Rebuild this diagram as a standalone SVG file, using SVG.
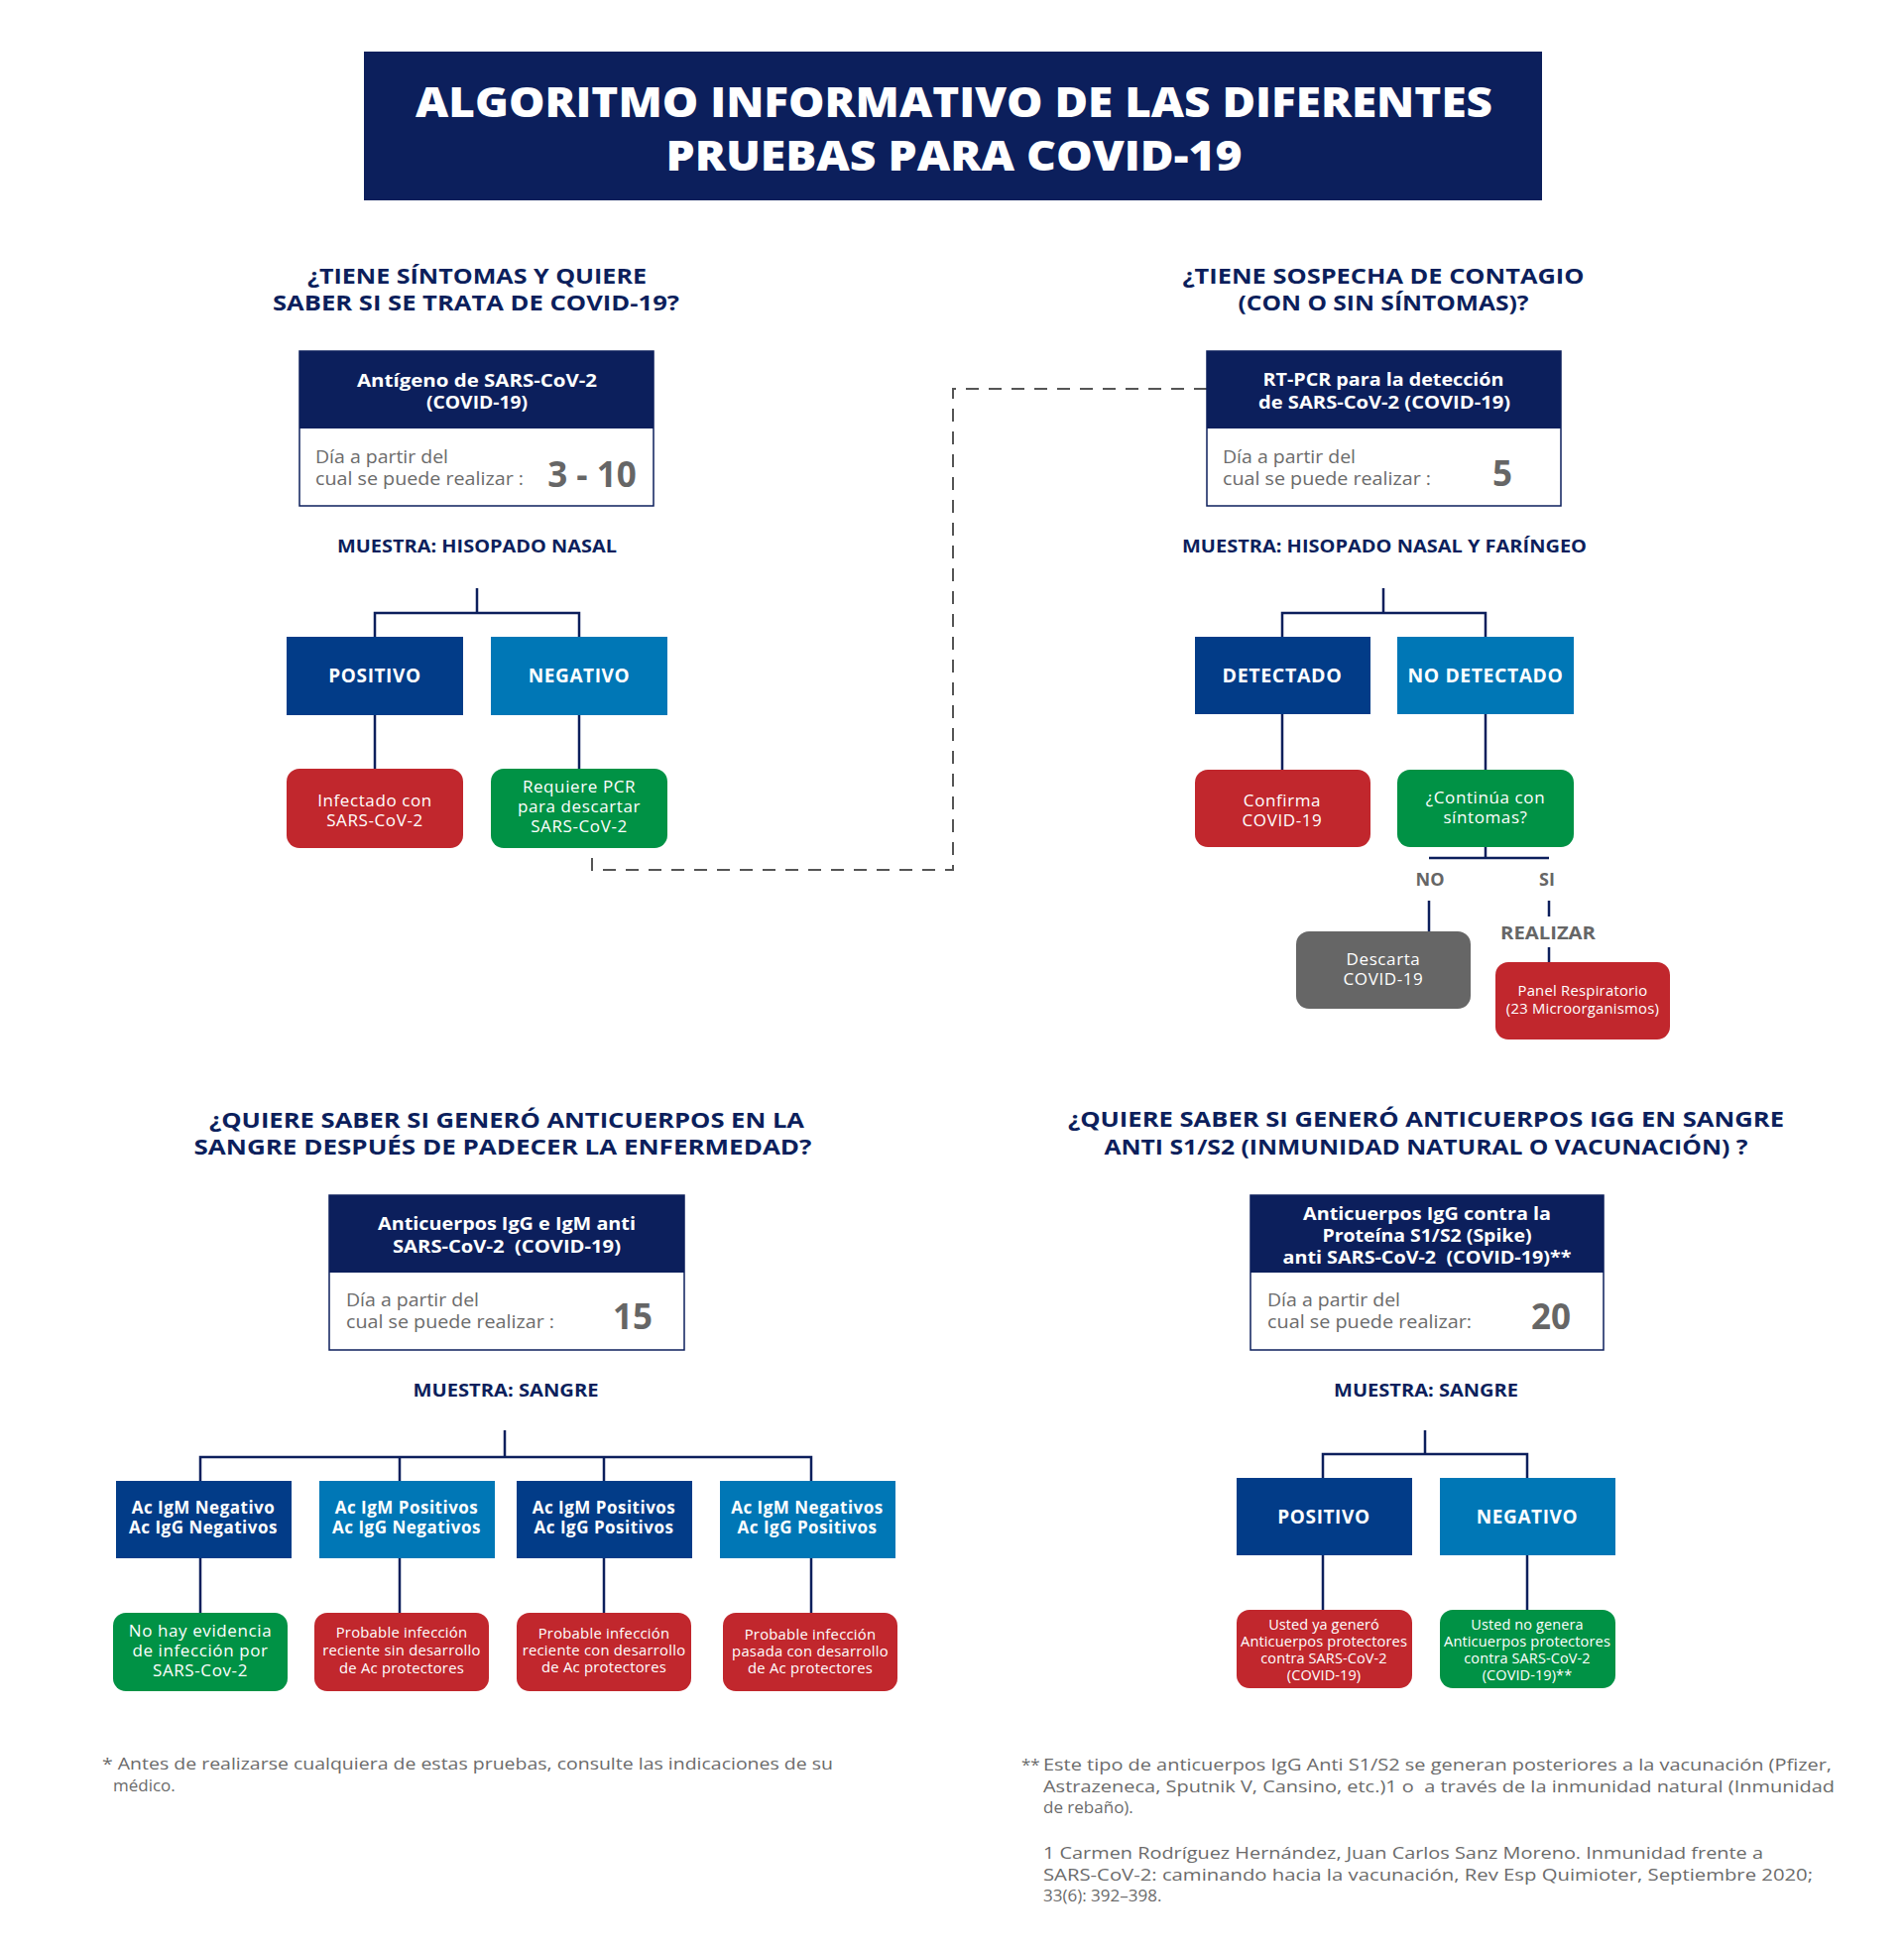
<svg xmlns="http://www.w3.org/2000/svg" width="1920" height="1972" viewBox="0 0 1920 1972">
<style>
text{font-family:"Open Sans","Liberation Sans",sans-serif}
.title{fill:#fff;font-weight:800;font-size:42px;text-anchor:middle}
.q{fill:#0c1f5c;font-weight:700;font-size:22px;text-anchor:middle}
.hdr{fill:#fff;font-weight:700;font-size:17px;text-anchor:middle}
.body{fill:#6b6b6b;font-size:18px}
.num{fill:#666;font-weight:700;font-size:35px;text-anchor:middle}
.muestra{fill:#0c1f5c;font-weight:700;font-size:17px;text-anchor:middle}
.lbl{fill:#fff;font-weight:700;font-size:19px;letter-spacing:0.6px;text-anchor:middle}
.lbl2{fill:#fff;font-weight:700;font-size:17px;letter-spacing:0.5px;text-anchor:middle}
.res{fill:#fff;font-size:17px;letter-spacing:0.6px;text-anchor:middle}
.res2{fill:#fff;font-size:14.8px;letter-spacing:0.25px;text-anchor:middle}
.res3{fill:#fff;font-size:14.5px;letter-spacing:0.1px;text-anchor:middle}
.gray{fill:#666;font-weight:700;font-size:18px;text-anchor:middle}
.foot{fill:#6b6b6b;font-size:17px}
.navy{fill:#0c1f5c}
.dark{fill:#023c88}
.light{fill:#0077b6}
.red{fill:#c1272d}
.green{fill:#009245}
.grey{fill:#666}
.frame{fill:#fff;stroke:#0c1f5c;stroke-width:1.5}
.conn{fill:none;stroke:#0c1f5c;stroke-width:2.5}
.dash{fill:none;stroke:#555;stroke-width:2;stroke-dasharray:13 10}
</style>

<g id="title">
<rect x="367" y="52" width="1188" height="150" class="navy"/>
<text class="title"><tspan x="962" y="118" textLength="1086" lengthAdjust="spacingAndGlyphs">ALGORITMO INFORMATIVO DE LAS DIFERENTES</tspan><tspan x="962" y="172" textLength="581" lengthAdjust="spacingAndGlyphs">PRUEBAS PARA COVID-19</tspan></text>
</g>

<g id="connectors">
<path class="dash" d="M1217 392 H961 V877 H597 V855"/>
<path class="conn" d="M481 593 V618 M378 642 V618 H584 V642 M378 721 V775 M584 721 V775"/>
<path class="conn" d="M1395 593 V618 M1293 642 V618 H1498 V642 M1293 720 V776 M1498 720 V776 M1498 854 V865 M1441 865 H1562 M1441 908 V939 M1562 908 V924 M1562 955 V970"/>
<path class="conn" d="M509 1442 V1469 M202 1493 V1469 H818 V1493 M403 1469 V1493 M609 1469 V1493 M202 1571 V1626 M403 1571 V1626 M609 1571 V1626 M818 1571 V1626"/>
<path class="conn" d="M1437 1442 V1466 M1334 1490 V1466 H1540 V1490 M1334 1568 V1623 M1540 1568 V1623"/>
</g>

<g id="q1">
<text class="q"><tspan x="481" y="286" textLength="342" lengthAdjust="spacingAndGlyphs">¿TIENE SÍNTOMAS Y QUIERE</tspan><tspan x="480" y="313" textLength="410" lengthAdjust="spacingAndGlyphs">SABER SI SE TRATA DE COVID-19?</tspan></text>
</g>
<g id="test-antigeno">
<rect class="frame" x="302" y="354" width="357" height="156"/>
<rect class="navy" x="302" y="354" width="357" height="78"/>
<text class="hdr"><tspan x="481" y="390" textLength="242" lengthAdjust="spacingAndGlyphs">Antígeno de SARS-CoV-2</tspan><tspan x="481" y="412" textLength="102" lengthAdjust="spacingAndGlyphs">(COVID-19)</tspan></text>
<text class="body"><tspan x="318" y="467" textLength="134" lengthAdjust="spacingAndGlyphs">Día a partir del</tspan><tspan x="318" y="489" textLength="210" lengthAdjust="spacingAndGlyphs">cual se puede realizar :</tspan></text>
<text class="num" x="597" y="491">3 - 10</text>
</g>
<text id="muestra1" class="muestra" x="481" y="557" textLength="282" lengthAdjust="spacingAndGlyphs">MUESTRA: HISOPADO NASAL</text>
<g id="ag-positivo"><rect class="dark" x="289" y="642" width="178" height="79"/><text class="lbl" x="378" y="688">POSITIVO</text></g>
<g id="ag-negativo"><rect class="light" x="495" y="642" width="178" height="79"/><text class="lbl" x="584" y="688">NEGATIVO</text></g>
<g id="ag-infectado"><rect class="red" x="289" y="775" width="178" height="80" rx="13"/><text class="res"><tspan x="378" y="813">Infectado con</tspan><tspan x="378" y="833">SARS-CoV-2</tspan></text></g>
<g id="ag-requiere"><rect class="green" x="495" y="775" width="178" height="80" rx="13"/><text class="res"><tspan x="584" y="799">Requiere PCR</tspan><tspan x="584" y="819">para descartar</tspan><tspan x="584" y="839">SARS-CoV-2</tspan></text></g>

<g id="q2">
<text class="q"><tspan x="1395" y="286" textLength="405" lengthAdjust="spacingAndGlyphs">¿TIENE SOSPECHA DE CONTAGIO</tspan><tspan x="1395" y="313" textLength="293" lengthAdjust="spacingAndGlyphs">(CON O SIN SÍNTOMAS)?</tspan></text>
</g>
<g id="test-pcr">
<rect class="frame" x="1217" y="354" width="357" height="156"/>
<rect class="navy" x="1217" y="354" width="357" height="78"/>
<text class="hdr"><tspan x="1395" y="389" textLength="243" lengthAdjust="spacingAndGlyphs">RT-PCR para la detección</tspan><tspan x="1396" y="412" textLength="254" lengthAdjust="spacingAndGlyphs">de SARS-CoV-2 (COVID-19)</tspan></text>
<text class="body"><tspan x="1233" y="467" textLength="134" lengthAdjust="spacingAndGlyphs">Día a partir del</tspan><tspan x="1233" y="489" textLength="210" lengthAdjust="spacingAndGlyphs">cual se puede realizar :</tspan></text>
<text class="num" x="1515" y="490">5</text>
</g>
<text id="muestra2" class="muestra" x="1396" y="557" textLength="408" lengthAdjust="spacingAndGlyphs">MUESTRA: HISOPADO NASAL Y FARÍNGEO</text>
<g id="pcr-detectado"><rect class="dark" x="1205" y="642" width="177" height="78"/><text class="lbl" x="1293" y="688" textLength="121" lengthAdjust="spacingAndGlyphs">DETECTADO</text></g>
<g id="pcr-nodetectado"><rect class="light" x="1409" y="642" width="178" height="78"/><text class="lbl" x="1498" y="688" textLength="157" lengthAdjust="spacingAndGlyphs">NO DETECTADO</text></g>
<g id="pcr-confirma"><rect class="red" x="1205" y="776" width="177" height="78" rx="13"/><text class="res"><tspan x="1293" y="813">Confirma</tspan><tspan x="1293" y="833">COVID-19</tspan></text></g>
<g id="pcr-continua"><rect class="green" x="1409" y="776" width="178" height="78" rx="13"/><text class="res"><tspan x="1498" y="810">¿Continúa con</tspan><tspan x="1498" y="830">síntomas?</tspan></text></g>
<text id="lbl-no" class="gray" x="1442" y="893">NO</text>
<text id="lbl-si" class="gray" x="1560" y="893">SI</text>
<text id="lbl-realizar" class="gray" x="1561" y="947" textLength="96" lengthAdjust="spacingAndGlyphs">REALIZAR</text>
<g id="pcr-descarta"><rect class="grey" x="1307" y="939" width="176" height="78" rx="13"/><text class="res"><tspan x="1395" y="973">Descarta</tspan><tspan x="1395" y="993">COVID-19</tspan></text></g>
<g id="pcr-panel"><rect class="red" x="1508" y="970" width="176" height="78" rx="13"/><text class="res2"><tspan x="1596" y="1004">Panel Respiratorio</tspan><tspan x="1596" y="1022">(23 Microorganismos)</tspan></text></g>

<g id="q3">
<text class="q"><tspan x="511" y="1137" textLength="600" lengthAdjust="spacingAndGlyphs">¿QUIERE SABER SI GENERÓ ANTICUERPOS EN LA</tspan><tspan x="507" y="1164" textLength="623" lengthAdjust="spacingAndGlyphs">SANGRE DESPUÉS DE PADECER LA ENFERMEDAD?</tspan></text>
</g>
<g id="test-igg-igm">
<rect class="frame" x="332" y="1205" width="358" height="156"/>
<rect class="navy" x="332" y="1205" width="358" height="78"/>
<text class="hdr" xml:space="preserve"><tspan x="511" y="1240" textLength="260" lengthAdjust="spacingAndGlyphs">Anticuerpos IgG e IgM anti</tspan><tspan x="511" y="1263" textLength="230" lengthAdjust="spacingAndGlyphs">SARS-CoV-2  (COVID-19)</tspan></text>
<text class="body"><tspan x="349" y="1317" textLength="134" lengthAdjust="spacingAndGlyphs">Día a partir del</tspan><tspan x="349" y="1339" textLength="210" lengthAdjust="spacingAndGlyphs">cual se puede realizar :</tspan></text>
<text class="num" x="638" y="1340">15</text>
</g>
<text id="muestra3" class="muestra" x="510" y="1408" textLength="187" lengthAdjust="spacingAndGlyphs">MUESTRA: SANGRE</text>
<g id="ac-1"><rect class="dark" x="117" y="1493" width="177" height="78"/><text class="lbl2"><tspan x="205" y="1526">Ac IgM Negativo</tspan><tspan x="205" y="1546">Ac IgG Negativos</tspan></text></g>
<g id="ac-2"><rect class="light" x="322" y="1493" width="177" height="78"/><text class="lbl2"><tspan x="410" y="1526">Ac IgM Positivos</tspan><tspan x="410" y="1546">Ac IgG Negativos</tspan></text></g>
<g id="ac-3"><rect class="dark" x="521" y="1493" width="177" height="78"/><text class="lbl2"><tspan x="609" y="1526">Ac IgM Positivos</tspan><tspan x="609" y="1546">Ac IgG Positivos</tspan></text></g>
<g id="ac-4"><rect class="light" x="726" y="1493" width="177" height="78"/><text class="lbl2"><tspan x="814" y="1526">Ac IgM Negativos</tspan><tspan x="814" y="1546">Ac IgG Positivos</tspan></text></g>
<g id="ac-res-1"><rect class="green" x="114" y="1626" width="176" height="79" rx="13"/><text class="res"><tspan x="202" y="1650">No hay evidencia</tspan><tspan x="202" y="1670">de infección por</tspan><tspan x="202" y="1690">SARS-Cov-2</tspan></text></g>
<g id="ac-res-2"><rect class="red" x="317" y="1626" width="176" height="79" rx="13"/><text class="res2"><tspan x="405" y="1651">Probable infección</tspan><tspan x="405" y="1669">reciente sin desarrollo</tspan><tspan x="405" y="1687">de Ac protectores</tspan></text></g>
<g id="ac-res-3"><rect class="red" x="521" y="1626" width="176" height="79" rx="13"/><text class="res2"><tspan x="609" y="1652">Probable infección</tspan><tspan x="609" y="1669">reciente con desarrollo</tspan><tspan x="609" y="1686">de Ac protectores</tspan></text></g>
<g id="ac-res-4"><rect class="red" x="729" y="1626" width="176" height="79" rx="13"/><text class="res2"><tspan x="817" y="1653">Probable infección</tspan><tspan x="817" y="1670">pasada con desarrollo</tspan><tspan x="817" y="1687">de Ac protectores</tspan></text></g>

<g id="q4">
<text class="q"><tspan x="1438" y="1136" textLength="722" lengthAdjust="spacingAndGlyphs">¿QUIERE SABER SI GENERÓ ANTICUERPOS IGG EN SANGRE</tspan><tspan x="1438" y="1164" textLength="649" lengthAdjust="spacingAndGlyphs">ANTI S1/S2 (INMUNIDAD NATURAL O VACUNACIÓN) ?</tspan></text>
</g>
<g id="test-s1s2">
<rect class="frame" x="1261" y="1205" width="356" height="156"/>
<rect class="navy" x="1261" y="1205" width="356" height="78"/>
<text class="hdr" xml:space="preserve"><tspan x="1439" y="1230" textLength="250" lengthAdjust="spacingAndGlyphs">Anticuerpos IgG contra la</tspan><tspan x="1439" y="1252" textLength="211" lengthAdjust="spacingAndGlyphs">Proteína S1/S2 (Spike)</tspan><tspan x="1439" y="1274" textLength="291" lengthAdjust="spacingAndGlyphs">anti SARS-CoV-2  (COVID-19)**</tspan></text>
<text class="body"><tspan x="1278" y="1317" textLength="134" lengthAdjust="spacingAndGlyphs">Día a partir del</tspan><tspan x="1278" y="1339" textLength="206" lengthAdjust="spacingAndGlyphs">cual se puede realizar:</tspan></text>
<text class="num" x="1564" y="1340">20</text>
</g>
<text id="muestra4" class="muestra" x="1438" y="1408" textLength="186" lengthAdjust="spacingAndGlyphs">MUESTRA: SANGRE</text>
<g id="s-positivo"><rect class="dark" x="1247" y="1490" width="177" height="78"/><text class="lbl" x="1335" y="1536">POSITIVO</text></g>
<g id="s-negativo"><rect class="light" x="1452" y="1490" width="177" height="78"/><text class="lbl" x="1540" y="1536">NEGATIVO</text></g>
<g id="s-res-pos"><rect class="red" x="1247" y="1623" width="177" height="79" rx="13"/><text class="res3"><tspan x="1335" y="1643">Usted ya generó</tspan><tspan x="1335" y="1660" textLength="168" lengthAdjust="spacingAndGlyphs">Anticuerpos protectores</tspan><tspan x="1335" y="1677">contra SARS-CoV-2</tspan><tspan x="1335" y="1694">(COVID-19)</tspan></text></g>
<g id="s-res-neg"><rect class="green" x="1452" y="1623" width="177" height="79" rx="13"/><text class="res3"><tspan x="1540" y="1643">Usted no genera</tspan><tspan x="1540" y="1660" textLength="168" lengthAdjust="spacingAndGlyphs">Anticuerpos protectores</tspan><tspan x="1540" y="1677">contra SARS-CoV-2</tspan><tspan x="1540" y="1694">(COVID-19)**</tspan></text></g>

<g id="footnotes">
<text class="foot"><tspan x="103" y="1784" textLength="737" lengthAdjust="spacingAndGlyphs">* Antes de realizarse cualquiera de estas pruebas, consulte las indicaciones de su</tspan><tspan x="114" y="1806">médico.</tspan></text>
<text class="foot" xml:space="preserve"><tspan x="1030" y="1785">**</tspan><tspan x="1052" y="1785" textLength="795" lengthAdjust="spacingAndGlyphs">Este tipo de anticuerpos IgG Anti S1/S2 se generan posteriores a la vacunación (Pfizer,</tspan><tspan x="1052" y="1807" textLength="798" lengthAdjust="spacingAndGlyphs">Astrazeneca, Sputnik V, Cansino, etc.)1 o  a través de la inmunidad natural (Inmunidad</tspan><tspan x="1052" y="1828">de rebaño).</tspan></text>
<text class="foot"><tspan x="1052" y="1874" textLength="726" lengthAdjust="spacingAndGlyphs">1 Carmen Rodríguez Hernández, Juan Carlos Sanz Moreno. Inmunidad frente a</tspan><tspan x="1052" y="1896" textLength="776" lengthAdjust="spacingAndGlyphs">SARS-CoV-2: caminando hacia la vacunación, Rev Esp Quimioter, Septiembre 2020;</tspan><tspan x="1052" y="1917">33(6): 392–398.</tspan></text>
</g>
</svg>
